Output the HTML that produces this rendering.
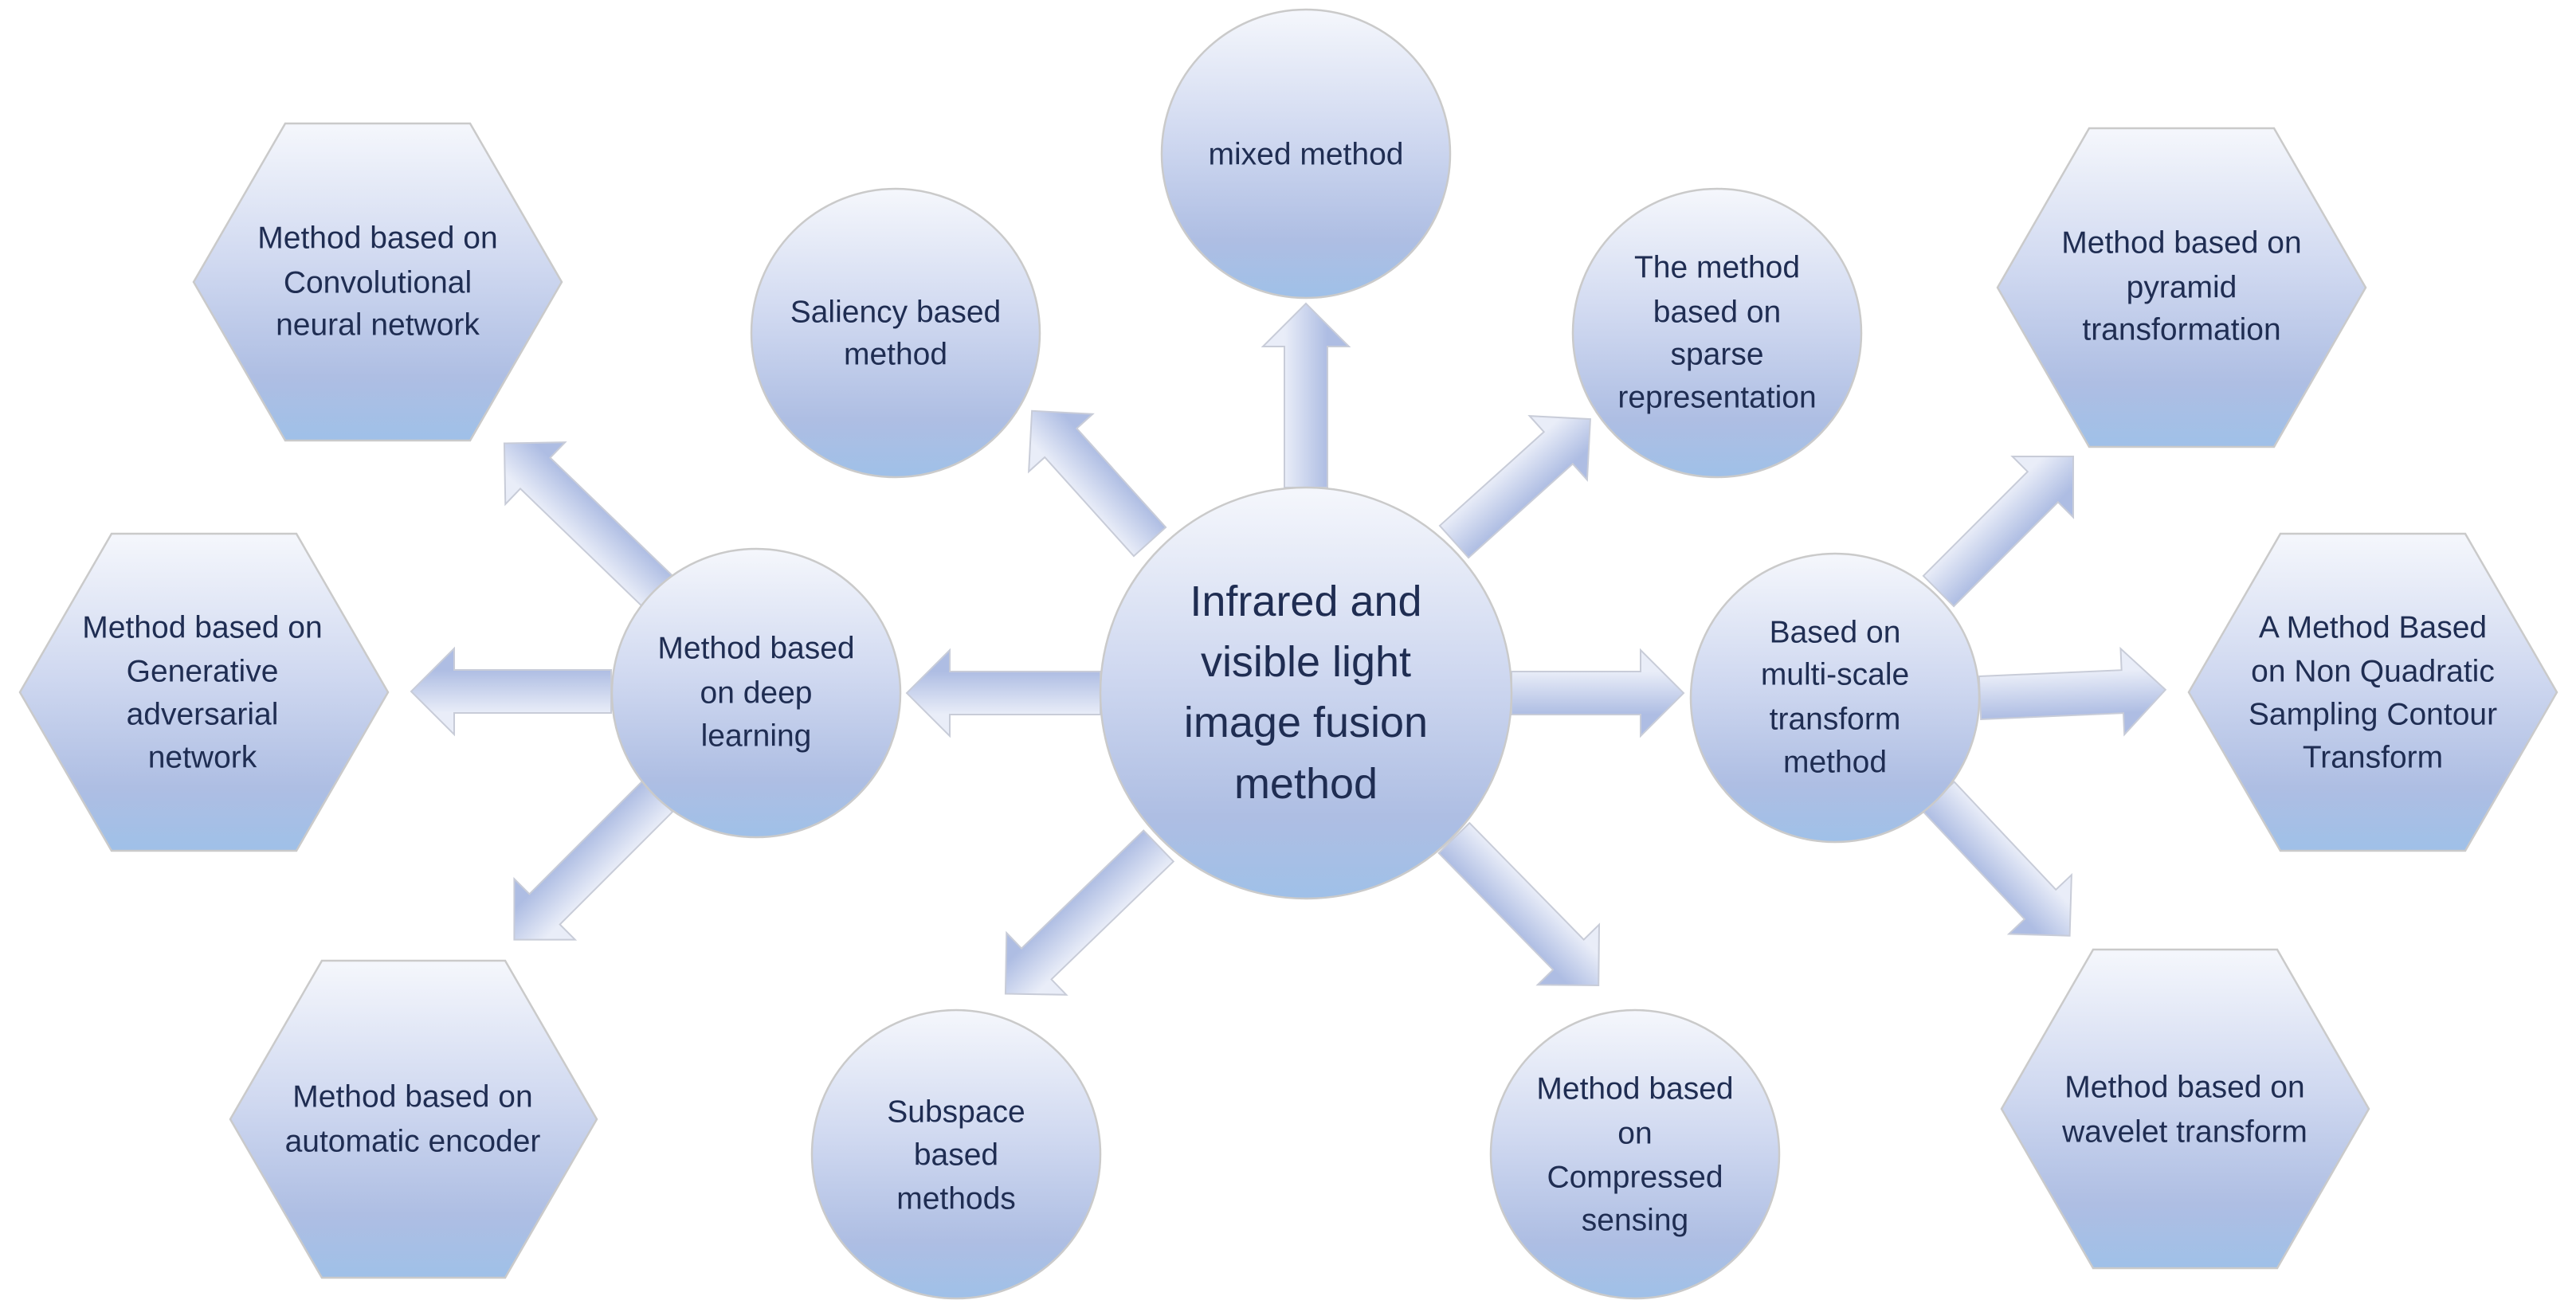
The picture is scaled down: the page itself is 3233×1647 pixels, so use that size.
<!DOCTYPE html>
<html><head><meta charset="utf-8"><style>
html,body{margin:0;padding:0;background:#fff;}
svg{display:block;}
text{font-family:"Liberation Sans",sans-serif;fill:#1f2d52;text-anchor:middle;dominant-baseline:central;}
</style></head><body>
<svg width="3233" height="1647" viewBox="0 0 3233 1647" xmlns="http://www.w3.org/2000/svg">
<defs>
<linearGradient id="g" x1="0" y1="0" x2="0" y2="1">
<stop offset="0" stop-color="#f5f7fc"/>
<stop offset="0.45" stop-color="#cfd8f0"/>
<stop offset="0.8" stop-color="#aebee3"/>
<stop offset="1" stop-color="#9fc0e8"/>
</linearGradient>
<linearGradient id="ag" gradientUnits="userSpaceOnUse" x1="0" y1="-27" x2="0" y2="27">
<stop offset="0" stop-color="#e9edf8"/>
<stop offset="1" stop-color="#aebde3"/>
</linearGradient>
<path id="a" d=""/>
</defs>
<g stroke="#c8ccd8" stroke-width="2" fill="url(#ag)">
<!-- path: M0,-27 H L-54 V-54 L L,0 L-54,54 V27 H0 Z -->
<path transform="translate(1639,612) rotate(-90)" d="M0,-27 H177 V-54 L231,0 L177,54 V27 H0 Z"/>
<path transform="translate(1381,870) rotate(180)" d="M0,-27 H189 V-54 L243,0 L189,54 V27 H0 Z"/>
<path transform="translate(1897,870) rotate(0)" d="M0,-27 H162 V-54 L216,0 L162,54 V27 H0 Z"/>
<path transform="translate(1443,680) rotate(-132)" d="M0,-27 H167 V-54 L221,0 L167,54 V27 H0 Z"/>
<path transform="translate(1825,680) rotate(-42)" d="M0,-27 H176 V-54 L230,0 L176,54 V27 H0 Z"/>
<path transform="translate(1454,1062) rotate(136)" d="M0,-27 H213 V-54 L267,0 L213,54 V27 H0 Z"/>
<path transform="translate(1825,1052) rotate(45.6)" d="M0,-27 H205 V-54 L259,0 L205,54 V27 H0 Z"/>
<path transform="translate(825,742) rotate(-136)" d="M0,-27 H213 V-54 L267,0 L213,54 V27 H0 Z"/>
<path transform="translate(767,868) rotate(180)" d="M0,-27 H197 V-54 L251,0 L197,54 V27 H0 Z"/>
<path transform="translate(825,1000) rotate(135)" d="M0,-27 H200 V-54 L254,0 L200,54 V27 H0 Z"/>
<path transform="translate(2433,742) rotate(-45)" d="M0,-27 H185 V-54 L239,0 L185,54 V27 H0 Z"/>
<path transform="translate(2485,876) rotate(-2.5)" d="M0,-27 H179 V-54 L233,0 L179,54 V27 H0 Z"/>
<path transform="translate(2433,1000) rotate(46.7)" d="M0,-27 H186 V-54 L240,0 L186,54 V27 H0 Z"/>
</g>
<g fill="url(#g)" stroke="#cacaca" stroke-width="2.5">
<circle cx="1639" cy="870" r="258"/>
<circle cx="1639" cy="193" r="181"/>
<circle cx="1124" cy="418" r="181"/>
<circle cx="2155" cy="418" r="181"/>
<circle cx="949" cy="870" r="181"/>
<circle cx="2303" cy="876" r="181"/>
<circle cx="1200" cy="1449" r="181"/>
<circle cx="2052" cy="1449" r="181"/>
<polygon points="243,354 358,155 590,155 705,354 590,553 358,553"/>
<polygon points="25,869 140,670 372,670 487,869 372,1068 140,1068"/>
<polygon points="289,1405 404,1206 634,1206 749,1405 634,1604 404,1604"/>
<polygon points="2507,361 2622,161 2854,161 2969,361 2854,561 2622,561"/>
<polygon points="2747,869 2862,670 3094,670 3209,869 3094,1068 2862,1068"/>
<polygon points="2512,1392 2627,1192 2858,1192 2973,1392 2858,1592 2627,1592"/>
</g>
<g font-size="54">
<text x="1639" y="755">Infrared and</text>
<text x="1639" y="831">visible light</text>
<text x="1639" y="907">image fusion</text>
<text x="1639" y="984">method</text>
</g>
<g font-size="39">
<text x="474" y="299">Method based on</text>
<text x="474" y="355">Convolutional</text>
<text x="474" y="408">neural network</text>
<text x="254" y="788">Method based on</text>
<text x="254" y="843">Generative</text>
<text x="254" y="897">adversarial</text>
<text x="254" y="951">network</text>
<text x="518" y="1377">Method based on</text>
<text x="518" y="1433">automatic encoder</text>
<text x="2738" y="305">Method based on</text>
<text x="2738" y="361">pyramid</text>
<text x="2738" y="414">transformation</text>
<text x="2978" y="788">A Method Based</text>
<text x="2978" y="843">on Non Quadratic</text>
<text x="2978" y="897">Sampling Contour</text>
<text x="2978" y="951">Transform</text>
<text x="2742" y="1365">Method based on</text>
<text x="2742" y="1421">wavelet transform</text>
<text x="1639" y="194">mixed method</text>
<text x="1124" y="392">Saliency based</text>
<text x="1124" y="445">method</text>
<text x="2155" y="336">The method</text>
<text x="2155" y="392">based on</text>
<text x="2155" y="445">sparse</text>
<text x="2155" y="499">representation</text>
<text x="949" y="814">Method based</text>
<text x="949" y="870">on deep</text>
<text x="949" y="924">learning</text>
<text x="2303" y="794">Based on</text>
<text x="2303" y="847">multi-scale</text>
<text x="2303" y="903">transform</text>
<text x="2303" y="957">method</text>
<text x="1200" y="1396">Subspace</text>
<text x="1200" y="1450">based</text>
<text x="1200" y="1505">methods</text>
<text x="2052" y="1367">Method based</text>
<text x="2052" y="1423">on</text>
<text x="2052" y="1478">Compressed</text>
<text x="2052" y="1532">sensing</text>
</g>
</svg>
</body></html>
